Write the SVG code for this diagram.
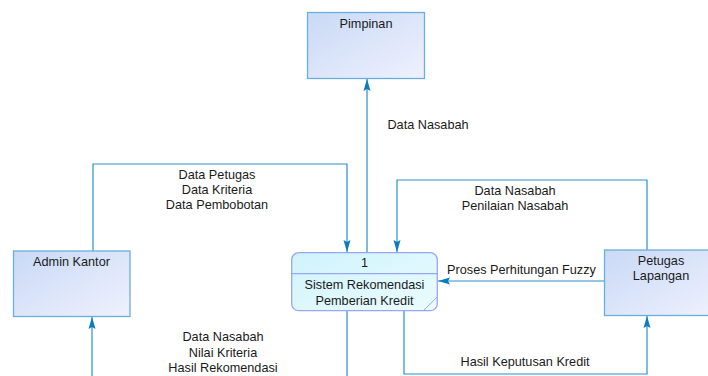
<svg xmlns="http://www.w3.org/2000/svg" width="708" height="376" viewBox="0 0 708 376">
<defs>
<linearGradient id="gExt" x1="0" y1="0" x2="1" y2="1">
<stop offset="0" stop-color="#c9d9f6"/>
<stop offset="1" stop-color="#eff1fd"/>
</linearGradient>
<linearGradient id="gProc" x1="0" y1="0" x2="1" y2="1">
<stop offset="0" stop-color="#cff3fd"/>
<stop offset="1" stop-color="#ebfcfe"/>
</linearGradient>
<marker id="arr" viewBox="0 0 12 8" refX="12" refY="4" markerWidth="12" markerHeight="8" markerUnits="userSpaceOnUse" orient="auto">
<path d="M0,0.5 L12,4 L0,7.5 L2,4 Z" fill="#0a7bbf"/>
</marker>
<style>
.ext{fill:url(#gExt);stroke:#6aaedb;stroke-width:1.3}
.proc{fill:url(#gProc);stroke:#9aa6f2;stroke-width:1.3}
.t{font-family:"Liberation Sans",Arial,sans-serif;font-size:12.7px;fill:#1a1a1a;text-anchor:middle}
.c{fill:none;stroke:#2a8fcc;stroke-width:1.2}
</style>
</defs>
<g id="connectors">
<polyline class="c" points="367,253 367,79" marker-end="url(#arr)"/>
<polyline class="c" points="93,251 93,164 347,164 347,252" marker-end="url(#arr)"/>
<polyline class="c" points="647,250 647,180 397,180 397,252" marker-end="url(#arr)"/>
<polyline class="c" points="604,281 438,281" marker-end="url(#arr)"/>
<polyline class="c" points="404,311 404,374 647,374 647,316" marker-end="url(#arr)"/>
<polyline class="c" points="347,311 347,378"/>
<polyline class="c" points="92,378 92,317" marker-end="url(#arr)"/>
<text class="t" x="428" y="129">Data Nasabah</text>
<text class="t" x="217" y="179">Data Petugas</text>
<text class="t" x="217" y="194">Data Kriteria</text>
<text class="t" x="217" y="208.5">Data Pembobotan</text>
<text class="t" x="515" y="195">Data Nasabah</text>
<text class="t" x="515" y="210">Penilaian Nasabah</text>
<text class="t" x="521.5" y="273.5">Proses Perhitungan Fuzzy</text>
<text class="t" x="525" y="366">Hasil Keputusan Kredit</text>
<text class="t" x="223" y="341">Data Nasabah</text>
<text class="t" x="223" y="356.5">Nilai Kriteria</text>
<text class="t" x="223" y="372">Hasil Rekomendasi</text>
</g>
<g id="pimpinan">
<rect class="ext" x="307.5" y="12.5" width="117" height="66"/>
<text class="t" x="366" y="28">Pimpinan</text>
</g>
<g id="admin-kantor">
<rect class="ext" x="13.5" y="251" width="116.5" height="65.5"/>
<text class="t" x="71.5" y="266">Admin Kantor</text>
</g>
<g id="petugas-lapangan">
<rect class="ext" x="604.5" y="250" width="117" height="65.5"/>
<text class="t" x="661" y="265">Petugas</text>
<text class="t" x="661" y="279.5">Lapangan</text>
</g>
<g id="proses-1">
<rect class="proc" x="291.7" y="252.7" width="145.6" height="58" rx="7" ry="7"/>
<line x1="291.7" y1="273.7" x2="437.3" y2="273.7" stroke="#9aa6f2" stroke-width="1.3"/>
<line x1="424" y1="310" x2="436.7" y2="297.5" stroke="#9aa6f2" stroke-width="1"/>
<text class="t" x="364.5" y="267">1</text>
<text class="t" x="364.5" y="289">Sistem Rekomendasi</text>
<text class="t" x="364.5" y="305">Pemberian Kredit</text>
</g>
</svg>
